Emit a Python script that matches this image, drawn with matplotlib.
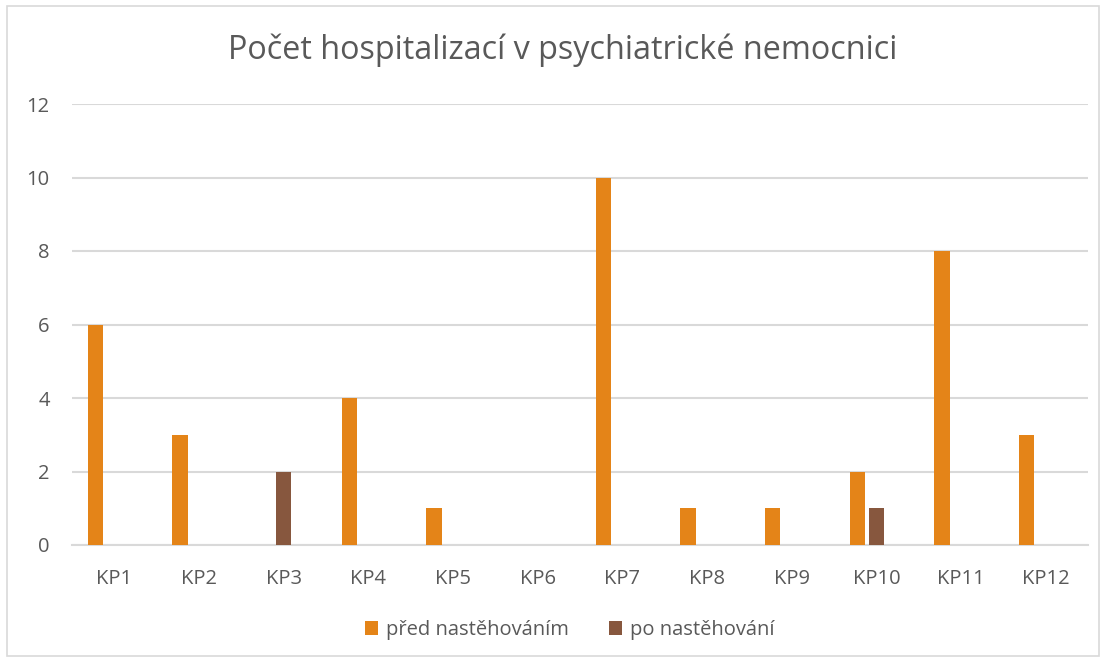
import numpy as np
import matplotlib
matplotlib.use("Agg")
from matplotlib import pyplot as plt
from matplotlib.patches import Rectangle

categories = ["KP1", "KP2", "KP3", "KP4", "KP5", "KP6",
              "KP7", "KP8", "KP9", "KP10", "KP11", "KP12"]
pred = [6, 3, 0, 4, 1, 0, 10, 1, 1, 2, 8, 3]
po = [0, 0, 2, 0, 0, 0, 0, 0, 0, 1, 0, 0]
series_names = ["před nastěhováním", "po nastěhování"]

ORANGE = "#E48418"
BROWN = "#87573E"
GRID = "#D9D9D9"
TEXT = "#595959"

plt.rcParams["font.family"] = ["Open Sans", "DejaVu Sans"]

fig = plt.figure(figsize=(11.06, 6.62), dpi=100)
ax = fig.add_axes([72 / 1106, 117 / 662, 1016 / 1106, 441 / 662])

x = np.arange(len(categories))
w = 0.18
ax.bar(x - 0.225, pred, w, color=ORANGE, label=series_names[0], zorder=3)
ax.bar(x, po, w, color=BROWN, label=series_names[1], zorder=3)

ax.set_xlim(-0.5, len(categories) - 0.5)
ax.set_ylim(0, 12)
ax.set_yticks(range(0, 13, 2))
ax.set_xticks(x)
ax.set_xticklabels(categories)
ax.tick_params(length=0, labelsize=14.5, colors=TEXT)
ax.tick_params(axis="y", pad=16)
ax.tick_params(axis="x", pad=17)
ax.yaxis.grid(True, color=GRID, linewidth=1.5, zorder=0)
for s in ["top", "right", "left"]:
    ax.spines[s].set_visible(False)
ax.spines["bottom"].set_color(GRID)
ax.spines["bottom"].set_linewidth(1.5)

fig.text(563 / 1106, 1 - 50 / 662, "Počet hospitalizací v psychiatrické nemocnici",
         ha="center", va="center", fontsize=23.3, color=TEXT)

leg = fig.legend(loc="center", bbox_to_anchor=(570 / 1106, 1 - 630 / 662),
                 ncol=2, frameon=False, fontsize=14.5, handlelength=0.65,
                 handleheight=0.65, columnspacing=2.0, handletextpad=0.4)
for t in leg.get_texts():
    t.set_color(TEXT)

fig.patches.append(Rectangle((7 / 1106, 6 / 662), 1092 / 1106, 650 / 662,
                             transform=fig.transFigure, fill=False,
                             edgecolor="#D9D9D9", linewidth=1.2))

fig.savefig("out.png", dpi=100)
